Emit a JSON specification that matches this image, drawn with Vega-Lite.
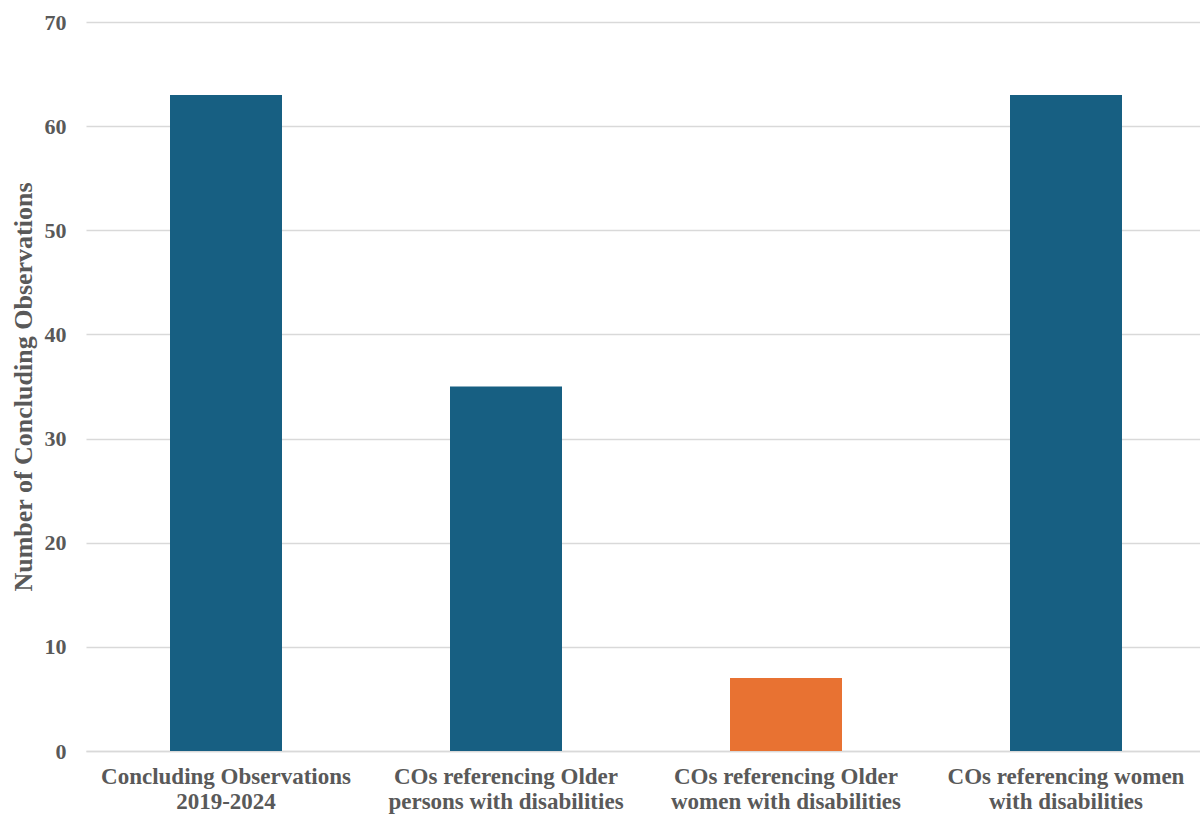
{
  "$schema": "https://vega.github.io/schema/vega-lite/v6.json",
  "width": 1120,
  "height": 729,
  "autosize": {"type": "none"},
  "padding": {"left": 86, "top": 22, "right": -6, "bottom": 66},
  "background": "white",
  "data": {
    "values": [
      {"category": "Concluding Observations|2019-2024", "count": 63},
      {"category": "COs referencing Older|persons with disabilities", "count": 35},
      {"category": "COs referencing Older|women with disabilities", "count": 7},
      {"category": "COs referencing women|with disabilities", "count": 63}
    ]
  },
  "config": {
    "view": {"stroke": null},
    "font": "Liberation Serif"
  },
  "mark": {"type": "bar"},
  "encoding": {
    "x": {
      "field": "category",
      "type": "nominal",
      "sort": null,
      "scale": {"paddingInner": 0.6, "paddingOuter": 0.3},
      "axis": {
        "title": null,
        "labelAngle": 0,
        "labelExpr": "split(datum.label, '|')",
        "labelFont": "Liberation Serif",
        "labelFontWeight": "bold",
        "labelFontSize": 23,
        "labelColor": "#595959",
        "labelLineHeight": 25,
        "labelLimit": 0,
        "labelPadding": 14,
        "ticks": false,
        "domainColor": "#d9d9d9",
        "domainWidth": 1.5
      }
    },
    "y": {
      "field": "count",
      "type": "quantitative",
      "scale": {"domain": [0, 70]},
      "axis": {
        "title": "Number of Concluding Observations",
        "titleFont": "Liberation Serif",
        "titleFontWeight": "bold",
        "titleFontSize": 26,
        "titleColor": "#595959",
        "titlePadding": 8,
        "values": [0, 10, 20, 30, 40, 50, 60, 70],
        "labelFont": "Liberation Serif",
        "labelFontWeight": "bold",
        "labelFontSize": 22,
        "labelColor": "#595959",
        "labelPadding": 20,
        "ticks": false,
        "domain": false,
        "gridColor": "#d9d9d9",
        "gridWidth": 1.5
      }
    },
    "color": {
      "field": "category",
      "type": "nominal",
      "legend": null,
      "scale": {
        "domain": [
          "Concluding Observations|2019-2024",
          "COs referencing Older|persons with disabilities",
          "COs referencing Older|women with disabilities",
          "COs referencing women|with disabilities"
        ],
        "range": ["#175f82", "#175f82", "#e87232", "#175f82"]
      }
    }
  }
}
